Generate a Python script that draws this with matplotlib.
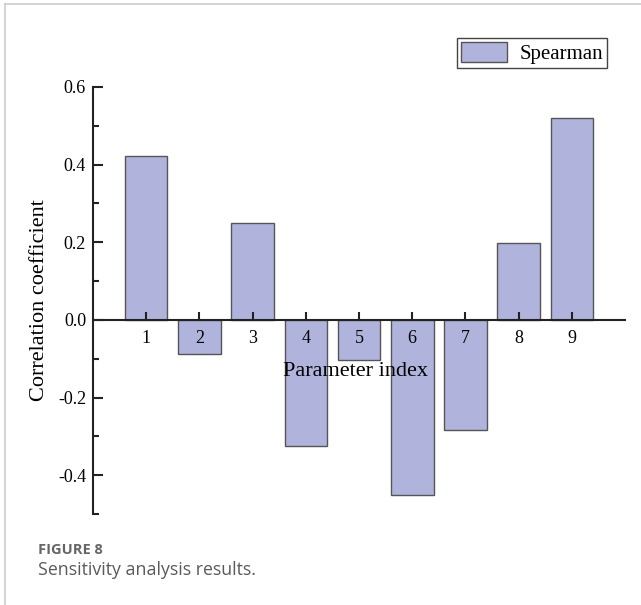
import matplotlib

matplotlib.use("Agg")
import matplotlib.pyplot as plt
from matplotlib.lines import Line2D
from matplotlib.ticker import MultipleLocator

# Spearman correlation of each parameter with the output
param_index = [1, 2, 3, 4, 5, 6, 7, 8, 9]
spearman = [0.423, -0.088, 0.25, -0.324, -0.104, -0.451, -0.284, 0.199, 0.52]
y_ticks = [-0.4, -0.2, 0.0, 0.2, 0.4, 0.6]
y_tick_labels = ["-0.4", "-0.2", "0.0", "0.2", "0.4", "0.6"]

serif = ["Liberation Serif", "DejaVu Serif"]
bar_color = "#b0b4dc"
edge_color = "#555555"

fig = plt.figure(figsize=(6.41, 6.05), dpi=100)
ax = fig.add_axes([0.1451, 0.1504, 0.8300, 0.7058])

ax.bar(param_index, spearman, width=0.8, color=bar_color,
       edgecolor=edge_color, linewidth=1.0, label="Spearman", zorder=1)
# ticks and their labels go on top of the bars
ax.set_axisbelow(False)

ax.set_xlim(0, 10)
ax.set_ylim(-0.5, 0.6)

# spines: left axis plus a horizontal axis through zero
for side in ("top", "right"):
	ax.spines[side].set_visible(False)
ax.spines["bottom"].set_position(("data", 0))
for side in ("left", "bottom"):
	ax.spines[side].set_linewidth(1.5)
	ax.spines[side].set_color("#222222")
	ax.spines[side].set_zorder(3)

ax.set_xticks(param_index)
ax.set_xticklabels([str(i) for i in param_index], fontfamily=serif, fontsize=13)
ax.set_yticks(y_ticks)
ax.set_yticklabels(y_tick_labels, fontfamily=serif, fontsize=13)
ax.yaxis.set_minor_locator(MultipleLocator(0.1))

ax.tick_params(axis="x", direction="in", length=6, width=1.5, pad=7, color="#222222")
ax.tick_params(axis="y", which="major", direction="in", length=7, width=1.5, pad=5, color="#222222")
ax.tick_params(axis="y", which="minor", direction="in", length=4.5, width=1.5, color="#222222")

ax.text(0.4925, 0.3326, "Parameter index", transform=ax.transAxes,
	ha="center", va="center", fontfamily=serif, fontsize=16, zorder=4)
ax.text(-0.100, 0.501, "Correlation coefficient", transform=ax.transAxes,
	ha="center", va="center", rotation=90, fontfamily=serif, fontsize=16)

leg = ax.legend(loc="upper right", bbox_to_anchor=(0.966, 1.115), borderaxespad=0,
	prop={"family": serif, "size": 15}, fancybox=False, framealpha=1,
	handlelength=2.2, handleheight=1.1, borderpad=0.2, handletextpad=0.6)
leg.get_frame().set_edgecolor("#444444")
leg.get_frame().set_linewidth(1.0)

# page frame lines and caption
fig.add_artist(Line2D([5 / 641, 1], [1 - 4 / 605, 1 - 4 / 605], color="#cccccc", lw=1.2))
fig.add_artist(Line2D([5 / 641, 5 / 641], [0, 1 - 4 / 605], color="#cccccc", lw=1.2))
fig.text(38 / 641, 1 - 550 / 605, "FIGURE 8", fontfamily="Open Sans", fontweight="bold",
	fontsize=10.5, color="#666666", va="center")
fig.text(38 / 641, 1 - 570 / 605, "Sensitivity analysis results.", fontfamily="Open Sans",
	fontsize=12.8, color="#5a5a5a", va="center")

fig.savefig("out.png", dpi=100, facecolor="white")
